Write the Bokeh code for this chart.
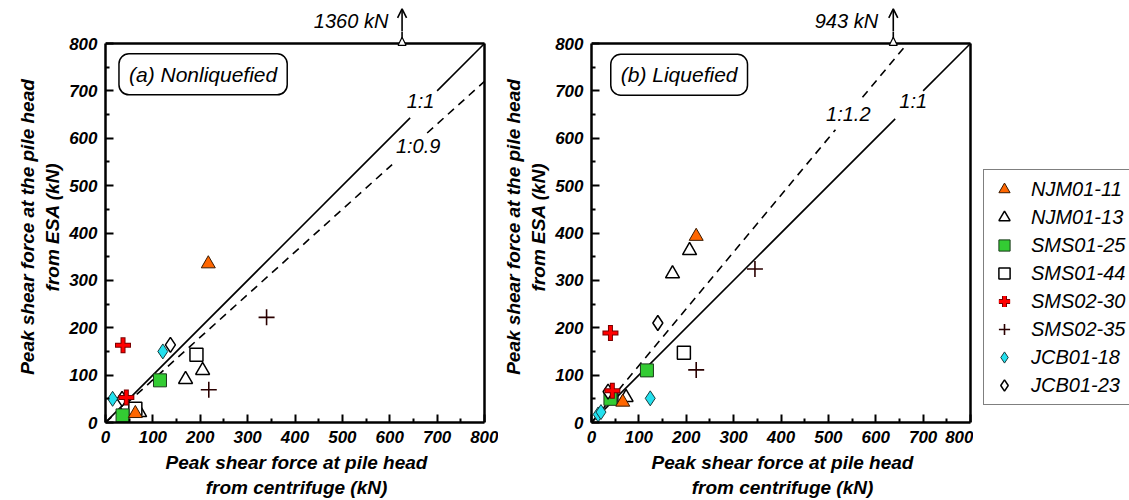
from bokeh.plotting import figure
from bokeh.models import (Range1d, FixedTicker, Label, Arrow, NormalHead, OpenHead,
                          Legend, LegendItem)
from bokeh.layouts import row, column
from bokeh.embed import file_html
from bokeh.resources import INLINE

FONT = "Liberation Sans"

# ---------------- data ----------------
series_names = ["NJM01-11", "NJM01-13", "SMS01-25", "SMS01-44",
                "SMS02-30", "SMS02-35", "JCB01-18", "JCB01-23"]
axis_ticks = [0, 100, 200, 300, 400, 500, 600, 700, 800]
minor_ticks = [50, 150, 250, 350, 450, 550, 650, 750]
axis_max = 800

# (a) Nonliquefied: x = centrifuge, y = ESA (kN)
a_njm0111_x = [217, 63]
a_njm0111_y = [335, 19]
a_njm0113_x = [169, 205, 72]
a_njm0113_y = [91, 110, 21]
a_sms0125_x = [115, 36]
a_sms0125_y = [89, 15]
a_sms0144_x = [192, 63]
a_sms0144_y = [143, 29]
a_sms0230_x = [37, 44]
a_sms0230_y = [163, 53]
a_sms0235_x = [218, 340]
a_sms0235_y = [69, 222]
a_jcb0118_x = [121, 15]
a_jcb0118_y = [150, 50]
a_jcb0123_x = [137, 35]
a_jcb0123_y = [164, 50]
a_offscale_x = 626
a_offscale_y = 1360
a_ratios = [1.0, 0.9]
a_ratio_labels = ["1:1", "1:0.9"]

# (b) Liquefied
b_njm0111_x = [221, 66]
b_njm0111_y = [393, 43]
b_njm0113_x = [207, 171, 73]
b_njm0113_y = [363, 314, 53]
b_sms0125_x = [117, 40]
b_sms0125_y = [110, 50]
b_sms0144_x = [195, 42]
b_sms0144_y = [147, 52]
b_sms0230_x = [40, 44]
b_sms0230_y = [189, 67]
b_sms0235_x = [345, 221]
b_sms0235_y = [324, 111]
b_jcb0118_x = [124, 14, 20]
b_jcb0118_y = [51, 17, 22]
b_jcb0123_x = [140, 35]
b_jcb0123_y = [210, 65]
b_offscale_x = 637
b_offscale_y = 943
b_ratios = [1.0, 1.2]
b_ratio_labels = ["1:1", "1:1.2"]

ORANGE = "#FF6600"
GREEN = "#33CC33"
CYAN = "#22E0EE"

S = 379 / 800.0           # pixels per kN
EXT_T = 12                # panel frame reaches this far above the 800 line
EXT_R = 3                 # and this far right of the 800 line
TOP_H = 43 - EXT_T        # strip above each panel
BOT = 78
Y_PANEL = axis_max + EXT_T / S
Y_END = axis_max + 43 / S
X_END = axis_max + EXT_R / S
FW = 379 + EXT_R
FH = 379 + EXT_T

L1, R1 = 105, 11          # panel (a) borders
L2, R2 = 93, 0            # panel (b) borders


def make_fig(left_border, right_border):
    p = figure(frame_width=FW, frame_height=FH,
               min_border_left=left_border, min_border_right=right_border,
               min_border_top=0, min_border_bottom=BOT,
               x_range=Range1d(0, X_END), y_range=Range1d(0, Y_PANEL),
               output_backend="svg", toolbar_location=None)
    p.grid.visible = False
    p.outline_line_color = None
    p.background_fill_color = "white"
    p.border_fill_color = "white"
    for ax in (p.xaxis[0], p.yaxis[0]):
        ax.bounds = (0, axis_max)
        ax.ticker = FixedTicker(ticks=axis_ticks, minor_ticks=minor_ticks)
        ax.major_tick_in = 8
        ax.major_tick_out = 0
        ax.minor_tick_in = 4
        ax.minor_tick_out = 0
        ax.axis_line_width = 2.5
        ax.major_tick_line_width = 2
        ax.minor_tick_line_width = 2
        ax.major_label_text_font = FONT
        ax.major_label_text_font_size = "17px"
        ax.major_label_text_font_style = "bold italic"
        ax.major_label_text_color = "black"
        ax.major_label_standoff = 8
        ax.axis_label_text_font = FONT
        ax.axis_label_text_font_size = "19px"
        ax.axis_label_text_font_style = "bold italic"
        ax.axis_label_text_color = "black"
        ax.axis_label_standoff = 3
    p.xaxis.axis_label_standoff = 6
    p.xaxis.axis_label = "Peak shear force at pile head\nfrom centrifuge (kN)"
    p.yaxis.axis_label = "Peak shear force at the pile head\nfrom ESA (kN)"
    # top and right sides of the plotting box
    p.line([0, axis_max], [axis_max, axis_max], line_color="black", line_width=2.5)
    p.line([axis_max, axis_max], [0, axis_max], line_color="black", line_width=2.5)
    return p


def make_top(left_border, right_border, x_range):
    t = figure(frame_width=FW, frame_height=TOP_H,
               min_border_left=left_border, min_border_right=right_border,
               min_border_top=0, min_border_bottom=0,
               x_range=x_range, y_range=Range1d(Y_PANEL, Y_END),
               x_axis_type=None, y_axis_type=None,
               output_backend="svg", toolbar_location=None)
    t.grid.visible = False
    t.outline_line_color = None
    return t


def add_points(p, d):
    r = {}
    r["NJM01-13"] = [p.scatter(d["NJM01-13"][0], d["NJM01-13"][1], marker="triangle", size=14,
                               fill_color="white", line_color="black", line_width=1.5)]
    r["SMS01-44"] = [p.scatter(d["SMS01-44"][0], d["SMS01-44"][1], marker="square", size=13,
                               fill_color="white", line_color="black", line_width=1.5)]
    r["SMS01-25"] = [p.scatter(d["SMS01-25"][0], d["SMS01-25"][1], marker="square", size=13,
                               fill_color=GREEN, line_color="#1a3a1a", line_width=1)]
    r["NJM01-11"] = [p.scatter(d["NJM01-11"][0], d["NJM01-11"][1], marker="triangle", size=14,
                               fill_color=ORANGE, line_color="#3a1a00", line_width=1)]
    r["JCB01-23"] = [p.scatter(d["JCB01-23"][0], d["JCB01-23"][1], marker="diamond", size=15,
                               fill_color="white", line_color="black", line_width=1.5)]
    r["JCB01-18"] = [p.scatter(d["JCB01-18"][0], d["JCB01-18"][1], marker="diamond", size=15,
                               fill_color=CYAN, line_color="#1a3a3a", line_width=1)]
    r["SMS02-35"] = [p.scatter(d["SMS02-35"][0], d["SMS02-35"][1], marker="cross", size=16,
                               line_color="#2a0000", line_width=1.6)]
    r30a = p.scatter(d["SMS02-30"][0], d["SMS02-30"][1], marker="cross", size=16,
                     line_color="#7a0000", line_width=5)
    r30b = p.scatter(d["SMS02-30"][0], d["SMS02-30"][1], marker="cross", size=14,
                     line_color="#FF0000", line_width=3)
    r["SMS02-30"] = [r30a, r30b]
    return r


def add_ratio_line(p, k, gap, dashed):
    xmax = min(axis_max, axis_max / k)
    segs = [(0, gap[0]), (gap[1], xmax)]
    for x0, x1 in segs:
        p.line([x0, x1], [k * x0, k * x1], line_color="black", line_width=1.6,
               line_dash="8 6" if dashed else "solid")


def add_offscale(p, t, x, value, label_x):
    # the shaft is drawn in both the panel and the strip above it; each clips its part
    for fig in (p, t):
        fig.add_layout(Arrow(x_start=x, y_start=axis_max, x_end=x, y_end=873,
                             end=OpenHead(size=9, line_width=1.6, line_color="black"),
                             line_width=1.6, line_color="black"))
    p.add_layout(Arrow(x_start=x, y_start=axis_max, x_end=x, y_end=813,
                       end=NormalHead(size=8, fill_color="white", line_color="black",
                                      line_width=1.2),
                       line_alpha=0))
    t.add_layout(Label(x=label_x, y=848, text=f"{value} kN", text_align="right",
                       text_baseline="middle", text_font=FONT, text_font_size="20px",
                       text_font_style="italic", text_color="black"))


def add_text(p, x, y, t):
    p.add_layout(Label(x=x, y=y, text=t, text_align="center", text_baseline="middle",
                       text_font=FONT, text_font_size="20px", text_font_style="italic",
                       text_color="black"))


def add_box(p, x, y, t):
    p.add_layout(Label(x=x, y=y, text=t, text_align="center", text_baseline="middle",
                       text_font=FONT, text_font_size="21px", text_font_style="italic",
                       text_color="black", border_line_color="black", border_line_width=1.5,
                       border_radius=10, background_fill_color="white",
                       padding=dict(left=10, right=10, top=9, bottom=9)))


# ---------------- panel (a) ----------------
p1 = make_fig(L1, R1)
add_ratio_line(p1, a_ratios[0], (643, 700), False)
add_ratio_line(p1, a_ratios[1], (605, 679), True)
add_text(p1, 665, 679, a_ratio_labels[0])
add_text(p1, 660, 584, a_ratio_labels[1])
da = {"NJM01-11": (a_njm0111_x, a_njm0111_y), "NJM01-13": (a_njm0113_x, a_njm0113_y),
      "SMS01-25": (a_sms0125_x, a_sms0125_y), "SMS01-44": (a_sms0144_x, a_sms0144_y),
      "SMS02-30": (a_sms0230_x, a_sms0230_y), "SMS02-35": (a_sms0235_x, a_sms0235_y),
      "JCB01-18": (a_jcb0118_x, a_jcb0118_y), "JCB01-23": (a_jcb0123_x, a_jcb0123_y)}
add_points(p1, da)
add_box(p1, 206, 735, "(a) Nonliquefied")
t1 = make_top(L1, R1, p1.x_range)
add_offscale(p1, t1, a_offscale_x, a_offscale_y, 597)

# ---------------- panel (b) ----------------
p2 = make_fig(L2, R2)
add_ratio_line(p2, b_ratios[0], (641, 700), False)
add_ratio_line(p2, b_ratios[1], (515, 572), True)
add_text(p2, 679, 679, b_ratio_labels[0])
add_text(p2, 542, 652, b_ratio_labels[1])
db = {"NJM01-11": (b_njm0111_x, b_njm0111_y), "NJM01-13": (b_njm0113_x, b_njm0113_y),
      "SMS01-25": (b_sms0125_x, b_sms0125_y), "SMS01-44": (b_sms0144_x, b_sms0144_y),
      "SMS02-30": (b_sms0230_x, b_sms0230_y), "SMS02-35": (b_sms0235_x, b_sms0235_y),
      "JCB01-18": (b_jcb0118_x, b_jcb0118_y), "JCB01-23": (b_jcb0123_x, b_jcb0123_y)}
add_points(p2, db)
add_box(p2, 185, 734, "(b) Liquefied")
t2 = make_top(L2, R2, p2.x_range)
add_offscale(p2, t2, b_offscale_x, b_offscale_y, 605)

# ---------------- legend panel ----------------
W1 = L1 + FW + R1
W2 = L2 + FW + R2
LEG_W = 1129 - W1 - W2
p3 = figure(frame_width=LEG_W, frame_height=FH,
            min_border_left=0, min_border_right=0, min_border_top=0,
            min_border_bottom=BOT,
            x_range=Range1d(-2000, -1000), y_range=Range1d(-2000, -1000),
            x_axis_type=None, y_axis_type=None,
            output_backend="svg", toolbar_location=None)
p3.grid.visible = False
p3.outline_line_color = None
r3 = add_points(p3, db)   # same series, kept out of view; used only for the key
legend = Legend(items=[LegendItem(label=n, renderers=r3[n]) for n in series_names],
                location=(10, 17), ncols=1, border_line_color="black", border_line_width=1.5,
                background_fill_color="white", background_fill_alpha=1,
                label_text_font=FONT, label_text_font_size="20px",
                label_text_font_style="italic", label_text_color="black",
                glyph_width=30, glyph_height=28, label_height=28, spacing=0,
                padding=5, margin=0, label_standoff=12)
p3.add_layout(legend)

layout = column(row(t1, t2), row(p1, p2, p3))
open("out.html", "w").write(file_html(layout, INLINE))
